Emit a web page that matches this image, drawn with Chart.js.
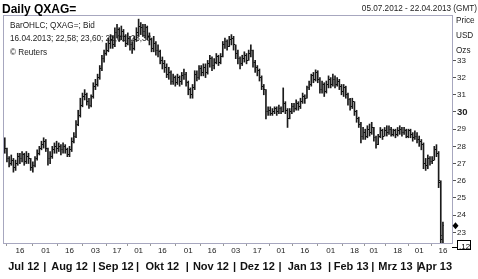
<!DOCTYPE html>
<html><head><meta charset="utf-8">
<script src="https://cdn.jsdelivr.net/npm/chart.js@4.4.0/dist/chart.umd.min.js"></script>
<style>html,body{margin:0;padding:0;background:#fff;overflow:hidden}#c{display:block}</style>
</head><body>
<canvas id="c" width="478" height="279"></canvas>
<script>
// trading-day index 0 = 05.07.2012 ... 203 = 16.04.2013
const opens = [27.7,27.9,27.3,27.0,27.2,26.8,27.0,27.4,27.3,27.5,27.1,27.4,27.3,26.8,26.9,27.3,27.6,27.9,28.1,28.3,
27.9,27.3,27.4,27.8,28.0,27.9,28.0,27.8,28.0,27.8,27.5,27.8,28.3,28.6,29.3,29.8,30.4,30.9,31.0,30.6,
30.4,30.9,31.5,31.6,32.0,32.5,33.1,33.4,33.6,34.0,34.2,33.9,34.6,34.8,34.4,34.7,34.4,34.0,34.3,33.9,
33.7,34.2,34.6,35.0,34.9,34.7,34.9,34.4,34.2,33.7,34.0,33.6,33.5,33.0,32.8,32.6,32.2,32.3,31.8,32.0,
31.7,32.0,31.8,32.1,32.2,31.7,31.3,31.0,31.4,32.2,32.0,32.5,32.3,32.6,32.3,32.8,33.1,32.7,32.9,33.2,
32.9,33.2,33.9,34.1,33.8,34.2,34.3,33.9,33.4,33.1,32.8,33.1,33.3,33.0,33.4,33.6,32.9,32.6,32.4,32.0,
31.5,31.3,30.0,30.1,29.9,30.0,30.2,30.0,30.2,30.0,30.5,30.1,29.6,30.0,30.3,30.2,30.5,30.3,30.6,30.9,
30.8,31.4,31.6,32.1,31.9,32.3,31.9,31.3,31.6,31.2,31.6,31.9,31.6,31.9,31.6,31.8,31.5,31.2,31.4,31.0,
30.7,30.3,30.6,30.0,29.6,29.3,28.6,28.8,28.6,29.0,28.8,29.1,28.5,28.1,28.6,28.9,28.6,28.9,28.8,29.0,
28.7,28.9,28.7,28.9,29.0,28.8,28.9,28.6,28.9,28.7,28.5,28.6,28.4,28.3,28.1,27.0,26.9,27.3,27.1,27.2,
27.8,27.6,25.9,22.58];
const highs = [28.5,27.9,27.4,27.5,27.3,27.2,27.6,27.6,27.7,27.6,27.7,27.6,27.3,27.1,27.4,27.8,28.0,28.3,28.5,28.4,
27.9,27.7,28.0,28.2,28.3,28.2,28.1,28.2,28.1,27.9,28.0,28.5,28.8,29.5,30.1,30.8,31.1,31.3,31.1,30.8,
31.0,31.7,31.9,32.2,32.7,33.3,33.6,34.0,34.3,34.5,34.4,34.9,35.1,34.9,35.0,34.8,34.5,34.6,34.4,34.1,
34.4,34.9,35.4,35.2,35.1,35.1,35.0,34.6,34.3,34.4,34.1,33.9,33.6,33.2,33.0,32.8,32.6,32.4,32.2,32.1,
32.2,32.1,32.3,32.5,32.3,31.8,31.4,31.6,32.4,32.4,32.7,32.7,32.8,32.8,33.0,33.3,33.2,33.1,33.4,33.3,
33.4,34.1,34.3,34.2,34.4,34.5,34.4,33.9,33.6,33.2,33.3,33.5,33.4,33.6,33.9,33.6,33.0,32.7,32.5,32.1,
31.6,31.3,30.3,30.3,30.2,30.3,30.3,30.4,30.3,31.4,30.6,30.2,30.2,30.5,30.5,30.7,30.6,30.8,31.1,31.0,
31.5,31.8,32.2,32.3,32.45,32.4,32.0,31.8,31.7,31.8,32.1,32.0,32.2,32.1,32.0,31.9,31.6,31.6,31.5,31.1,
30.8,30.8,30.6,30.1,29.7,29.4,29.1,29.0,29.2,29.3,29.4,29.1,28.6,28.7,29.1,29.0,29.1,29.2,29.2,29.1,
29.0,29.0,29.1,29.2,29.1,29.1,29.0,29.0,29.0,28.8,28.9,28.8,28.6,28.4,28.2,27.3,27.5,27.4,27.4,28.0,
28.1,27.7,26.0,23.60];
const lows = [27.6,27.1,26.8,26.9,26.5,26.6,26.9,27.0,27.1,26.9,27.0,27.0,26.6,26.5,26.8,27.2,27.5,27.8,27.9,27.7,
26.9,27.0,27.3,27.6,27.6,27.7,27.5,27.6,27.6,27.4,27.4,27.7,28.2,28.5,29.2,29.7,30.3,30.7,30.4,30.2,
30.3,30.8,31.3,31.5,31.9,32.4,32.9,33.3,33.5,33.7,33.7,33.8,34.3,34.1,34.2,34.1,33.8,33.9,33.6,33.4,
33.6,34.1,34.4,34.5,34.4,34.3,34.2,33.9,33.5,33.5,33.3,33.2,32.8,32.5,32.3,32.0,31.9,31.6,31.6,31.5,
31.6,31.5,31.6,31.9,31.5,31.0,30.8,30.8,31.3,31.8,31.9,32.1,32.1,32.0,32.2,32.6,32.4,32.5,32.8,32.7,
32.8,33.2,33.7,33.6,33.8,33.9,33.6,33.1,32.8,32.5,32.7,32.9,32.8,33.0,33.2,32.6,32.3,32.1,31.8,31.3,
31.0,29.6,29.8,29.8,29.8,29.9,29.8,29.9,29.9,30.0,29.9,29.1,29.6,29.9,30.0,30.1,30.1,30.2,30.5,30.5,
30.8,31.3,31.5,31.7,31.8,31.7,31.1,31.1,30.9,31.1,31.4,31.4,31.5,31.4,31.5,31.3,31.0,30.9,30.8,30.4,
30.1,30.2,29.8,29.4,29.1,28.2,28.4,28.4,28.5,28.6,28.7,28.3,27.9,28.1,28.5,28.4,28.6,28.6,28.7,28.6,
28.6,28.5,28.6,28.7,28.6,28.7,28.5,28.5,28.5,28.3,28.4,28.2,28.0,27.8,26.7,26.6,26.7,26.9,27.0,27.2,
27.4,25.6,22.0,22.01];
const closes = [27.9,27.3,27.0,27.2,26.8,27.0,27.4,27.3,27.5,27.1,27.4,27.3,26.8,26.9,27.3,27.6,27.9,28.1,28.3,27.9,
27.3,27.4,27.8,28.0,27.9,28.0,27.8,28.0,27.8,27.5,27.8,28.3,28.6,29.3,29.8,30.4,30.9,31.0,30.6,30.4,
30.9,31.5,31.6,32.0,32.5,33.1,33.4,33.6,34.0,34.2,33.9,34.6,34.8,34.4,34.7,34.4,34.0,34.3,33.9,33.7,
34.2,34.6,35.0,34.9,34.7,34.9,34.4,34.2,33.7,34.0,33.6,33.5,33.0,32.8,32.6,32.2,32.3,31.8,32.0,31.7,
32.0,31.8,32.1,32.2,31.7,31.3,31.0,31.4,32.2,32.0,32.5,32.3,32.6,32.3,32.8,33.1,32.7,32.9,33.2,32.9,
33.2,33.9,34.1,33.8,34.2,34.3,33.9,33.4,33.1,32.8,33.1,33.3,33.0,33.4,33.6,32.9,32.6,32.4,32.0,31.5,
31.3,30.0,30.1,29.9,30.0,30.2,30.0,30.2,30.0,30.5,30.1,29.6,30.0,30.3,30.2,30.5,30.3,30.6,30.9,30.8,
31.4,31.6,32.1,31.9,32.3,31.9,31.3,31.6,31.2,31.6,31.9,31.6,31.9,31.6,31.8,31.5,31.2,31.4,31.0,30.7,
30.3,30.6,30.0,29.6,29.3,28.6,28.8,28.6,29.0,28.8,29.1,28.5,28.1,28.6,28.9,28.6,28.9,28.8,29.0,28.7,
28.9,28.7,28.9,29.0,28.8,28.9,28.6,28.9,28.7,28.5,28.6,28.4,28.3,28.1,27.0,26.9,27.3,27.1,27.2,27.8,
27.6,26.0,22.8,23.38];

const dayTickIdx = [7,19,30,42,52,62,73,85,96,107,117,128,139,151,162,171,182,192,203];
const dayTickLabels = ['16','01','16','03','17','01','16','01','16','03','17','01','16','01','18','01','18','01','16'];
const monthPos = [8.8,18.5,30,41.5,51.5,61.5,73,84.5,95.5,106.5,117,127.5,139,150.5,160.5,170.5,181,191.5,199.3];
const monthLabels = ['Jul 12','|','Aug 12','|','Sep 12','|','Okt 12','|','Nov 12','|','Dez 12','|','Jan 13','|','Feb 13','|','Mrz 13','|','Apr 13'];
const yTicks = [23,24,25,26,27,28,29,30,31,32,33];
const infoLines = ['BarOHLC; QXAG=; Bid','16.04.2013; 22,58; 23,60; 22,01; 23,38','\u00A9 Reuters'];
const unitLines = ['Price','USD','Ozs'];

const FONT = '"Liberation Sans", Arial, Helvetica, sans-serif';
Chart.defaults.font.family = FONT;
Chart.defaults.color = '#1a1a1a';

function tickImg(left){
  const c = document.createElement('canvas'); c.width = 3; c.height = 1;
  const g = c.getContext('2d'); g.fillStyle = '#000';
  g.fillRect(left ? 0 : 2, 0, 1, 1);
  return c;
}
const openImg = tickImg(true), closeImg = tickImg(false);

const rangeData = lows.map((l, i) => ({x: i, y: [l, highs[i]]}));
const openData = opens.map((v, i) => ({x: i, y: v}));
const closeData = closes.map((v, i) => ({x: i, y: v}));

const FR = '#a7a7bf';
const deco = {
  id: 'deco',
  afterDraw(chart) {
    const ctx = chart.ctx, a = chart.chartArea, ys = chart.scales.y;
    ctx.save();
    ctx.strokeStyle = FR; ctx.lineWidth = 1;
    ctx.strokeRect(a.left + 0.5, a.top + 0.5, a.right - a.left, a.bottom - a.top);
    ctx.fillStyle = '#000';
    ctx.textBaseline = 'alphabetic';
    ctx.font = 'bold 12px ' + FONT; ctx.textAlign = 'left';
    ctx.fillText('Daily QXAG=', 2, 12.5);
    ctx.font = '8.2px ' + FONT; ctx.textAlign = 'right'; ctx.fillStyle = '#222';
    ctx.fillText('05.07.2012 - 22.04.2013 (GMT)', 477, 11);
    ctx.textAlign = 'left';
    const iy = [28, 41, 55];
    infoLines.forEach((t, k) => ctx.fillText(t, 10, iy[k]));
    const uy = [23, 38, 53];
    unitLines.forEach((t, k) => ctx.fillText(t, 456, uy[k]));
    // last close marker
    const yc = ys.getPixelForValue(closes[closes.length - 1]);
    ctx.fillStyle = '#000';
    ctx.beginPath();
    ctx.moveTo(455.5, yc - 3.5); ctx.lineTo(458.5, yc); ctx.lineTo(455.5, yc + 3.5); ctx.lineTo(452.5, yc);
    ctx.closePath(); ctx.fill();
    // small price box
    ctx.strokeStyle = '#000';
    ctx.beginPath(); ctx.moveTo(452, 247.5); ctx.lineTo(457, 247.5); ctx.stroke();
    ctx.strokeRect(457.5, 240.5, 13, 9);
    ctx.font = '8px ' + FONT; ctx.fillStyle = '#000';
    ctx.fillText('.12', 459, 248.5);
    ctx.restore();
  }
};

new Chart(document.getElementById('c'), {
  data: {
    datasets: [
      {type: 'bar', data: rangeData, backgroundColor: '#1a1a1a', borderWidth: 0, barThickness: 1, grouped: false},
      {type: 'line', data: openData, showLine: false, pointStyle: openImg, pointRadius: 2, pointHoverRadius: 2},
      {type: 'line', data: closeData, showLine: false, pointStyle: closeImg, pointRadius: 2, pointHoverRadius: 2}
    ]
  },
  options: {
    responsive: false, animation: false, devicePixelRatio: 1,
    layout: {padding: {left: 1, top: 15, right: 0, bottom: 0}},
    plugins: {legend: {display: false}, tooltip: {enabled: false}, title: {display: false}},
    events: [],
    scales: {
      x: {
        type: 'linear', position: 'bottom', min: -0.83, max: 207.2, weight: 0, offset: false,
        afterBuildTicks: s => { s.ticks = dayTickIdx.map(v => ({value: v})); },
        afterFit: s => { s.height = 14; },
        ticks: {autoSkip: false, maxRotation: 0, padding: 0, font: {size: 8}, color: '#222',
                callback: (v, i) => dayTickLabels[i]},
        grid: {drawOnChartArea: false, drawTicks: true, tickLength: 3, tickColor: '#999'},
        border: {display: false}
      },
      x2: {
        type: 'linear', position: 'bottom', min: -0.83, max: 207.2, weight: 1, offset: false,
        afterBuildTicks: s => { s.ticks = monthPos.map(v => ({value: v})); },
        afterFit: s => { s.height = 22; },
        ticks: {autoSkip: false, maxRotation: 0, padding: 3, font: {size: 11, weight: 'bold'}, color: '#111',
                callback: (v, i) => monthLabels[i]},
        grid: {display: false, drawTicks: false},
        border: {display: false}
      },
      y: {
        type: 'linear', position: 'right', min: 22.38, max: 35.64,
        afterBuildTicks: s => { s.ticks = yTicks.map(v => ({value: v})); },
        afterFit: s => { s.width = 26; },
        ticks: {autoSkip: false, padding: 1, color: '#222',
                font: c => (c.tick && c.tick.value === 30) ? {size: 9.5, weight: 'bold'} : {size: 8},
                callback: v => String(v)},
        grid: {drawOnChartArea: false, drawTicks: true, tickLength: 4, tickColor: '#555'},
        border: {display: false}
      }
    }
  },
  plugins: [deco]
});
</script>
</body></html>
